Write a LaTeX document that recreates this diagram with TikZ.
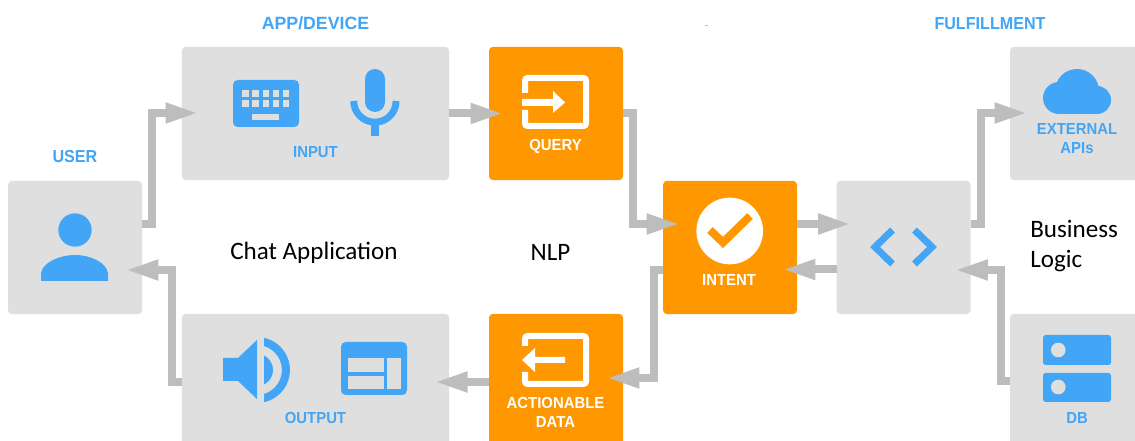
\documentclass[tikz,border=0pt]{standalone}
\usepackage{fontspec}
\usetikzlibrary{arrows.meta}
\setmainfont{Liberation Sans}
\newfontfamily\biglblfont{Liberation Sans Bold}
\newfontfamily\lblfont[FakeStretch=0.93]{Liberation Sans Bold}
\newfontfamily\notefont{Carlito}
\definecolor{boxgray}{HTML}{DFDFDF}
\definecolor{iconblue}{HTML}{42A5F5}
\definecolor{boxorange}{HTML}{FF9800}
\definecolor{linkgray}{HTML}{BDBDBD}
\tikzset{
  x=.75pt,y=-.75pt,
  graybox/.style={fill=boxgray,rounded corners=3pt,minimum width=100.5pt,minimum height=100pt,inner sep=0pt,outer sep=0pt},
  widebox/.style={graybox,minimum width=200.5pt},
  orangebox/.style={graybox,fill=boxorange},
  link/.style={draw=linkgray,line width=6pt,line join=miter,-{Triangle[length=25pt,width=14pt]}},
  bluelbl/.style={text=iconblue,font=\biglblfont\fontsize{13.3}{14}\selectfont,inner sep=0pt,text height=9.5pt,text depth=0pt},
  tightlbl/.style={text=iconblue,font=\lblfont\fontsize{13}{14}\selectfont,inner sep=0pt,text height=9.5pt,text depth=0pt},
  smalllbl/.style={text=iconblue,font=\lblfont\fontsize{12}{14}\selectfont,inner sep=0pt,text height=8.6pt,text depth=0pt},
  whitelbl/.style={smalllbl,text=white},
  note/.style={font=\notefont\fontsize{18.8}{19}\selectfont,text=black,inner sep=0pt},
  outline/.style={draw=white,line width=4.5pt,rounded corners=2pt,line cap=butt},
}
\begin{document}
\begin{tikzpicture}
\clip (0,0) rectangle (1135,441);
\fill[white] (0,0) rectangle (1135,441);
\fill[boxorange!70] (704.5,25) rectangle (708,26.5);
% boxes
\node[graybox] (user) at (75,247.5) {};
\node[widebox] (input) at (315.5,113.5) {};
\node[widebox] (output) at (315.5,380.5) {};
\node[orangebox] (query) at (556,113.5) {};
\node[orangebox] (action) at (556,380.5) {};
\node[orangebox] (intent) at (730,247.5) {};
\node[graybox] (code) at (903.5,247.5) {};
\node[graybox] (ext) at (1077,113.5) {};
\node[graybox] (db) at (1077,380.5) {};
% connectors
\draw[link] ([shift={(0,-23.5)}]user.east) -- ++(10,0) |- ([shift={(17,-0.5)}]input.west);
\draw[link] ([shift={(0,0)}]input.east) -- ([shift={(15,0)}]query.west);
\draw[link] ([shift={(0,0)}]query.east) -- ++(10,0) |- ([shift={(17,-23.5)}]intent.west);
\draw[link] ([shift={(0,22.5)}]intent.west) -- ++(-9,0) |- ([shift={(-17,-2.5)}]action.east);
\draw[link] ([shift={(0,1.5)}]action.west) -- ([shift={(-15,1.5)}]output.east);
\draw[link] ([shift={(0,1.5)}]output.west) -- ++(-10,0) |- ([shift={(-17,22.5)}]user.east);
\draw[link] ([shift={(0,-23.5)}]intent.east) -- ([shift={(15,-23.5)}]code.west);
\draw[link] ([shift={(0,22)}]code.west) -- ([shift={(-15,22)}]intent.east);
\draw[link] ([shift={(0,-23.5)}]code.east) -- ++(10,0) |- ([shift={(18,-0.5)}]ext.west);
\draw[link] ([shift={(0,0.5)}]db.west) -- ++(-9,0) |- ([shift={(-16,22.5)}]code.east);
% keyboard
\fill[iconblue,rounded corners=3.5pt] (233,80) rectangle (299,127);
\foreach \kx in {242.3,252.3,262.7,272.7,282.7}\foreach \ky in {90,100}
  \fill[boxgray] (\kx,\ky) rectangle ++(6.6,6.6);
\fill[boxgray] (252.3,114) rectangle (279,120);
% mic
\fill[iconblue,rounded corners=7.5pt] (365,69) rectangle (385,112);
\draw[iconblue,line width=5.2pt] (353.7,101) arc[start angle=180,end angle=360,radius=15.9pt];
\fill[iconblue] (371.2,124) rectangle (378.5,136);
% person
\fill[iconblue] (75,230) circle[radius=12.5pt];
\fill[iconblue] (41,281) -- (41,273) .. controls (43,262) and (60,255) .. (75,255) .. controls (90,255) and (106,262) .. (108,273) -- (108,281) -- cycle;
% speaker
\fill[iconblue] (223,358) -- (238,358) -- (257,340) -- (257,399) -- (238,381) -- (223,381) -- cycle;
\begin{scope}
\clip (264,330) rectangle (295,410);
\fill[iconblue] (257,370) circle[radius=12pt];
\fill[iconblue,even odd rule] (257,370) circle[radius=24.7pt] circle[radius=18.7pt];
\end{scope}
% table
\fill[iconblue,rounded corners=3.5pt] (341,342) rectangle (407,395);
\fill[boxgray] (348,358) rectangle (384,372);
\fill[boxgray] (348,376) rectangle (384,389);
\fill[boxgray] (387,358) rectangle (401,389);
% query icon
\draw[outline] (525,93) |- (586,78) |- (525,126) -- (525,110);
\fill[white] (522,99) -- (553,99) -- (553,91) -- (565,102.5) -- (553,113) -- (553,106) -- (522,106) -- cycle;
% action icon
\draw[outline] (525,346) |- (586,336) |- (525,384) -- (525,372);
\fill[white] (565,357) -- (535,357) -- (535,348) -- (522,360) -- (535,372) -- (535,363) -- (565,363) -- cycle;
% intent icon
\fill[white] (729.7,231) circle[radius=25pt];
\draw[boxorange,line width=6pt,miter limit=10] (710,230) -- (723,242.5) -- (750,216);
% code icon
\draw[iconblue,line width=5.2pt,miter limit=10] (892.5,230) -- (875,247) -- (892.5,264);
\draw[iconblue,line width=5.2pt,miter limit=10] (914.5,230) -- (932,247) -- (914.5,264);
% cloud
\fill[iconblue] (1077,91) circle[radius=16.5pt];
\fill[iconblue] (1059,98) circle[radius=12pt];
\fill[iconblue] (1097,100) circle[radius=10.5pt];
\fill[iconblue] (1059,92) rectangle (1097,114);
% db
\fill[iconblue,rounded corners=2pt] (1043,335) rectangle (1111,365);
\fill[iconblue,rounded corners=2pt] (1043,373) rectangle (1111,402);
\fill[boxgray] (1058.3,350) circle[radius=5.5pt];
\fill[boxgray] (1058.3,387) circle[radius=5.5pt];
% labels
\node[bluelbl] (lapp) at (315.5,23) {APP/DEVICE};
\node[tightlbl] (luser) at (75,156) {USER};
\node[tightlbl] (lful) at (990,23) {FULFILLMENT};
\node[smalllbl] (linput) at (315.5,152) {INPUT};
\node[smalllbl] (loutput) at (315.5,418) {OUTPUT};
\node[whitelbl] (lquery) at (555.5,145) {QUERY};
\node[whitelbl] (lact) at (555.5,403) {ACTIONABLE};
\node[whitelbl] (ldata) at (555.5,422) {DATA};
\node[whitelbl] (lintent) at (729,280) {INTENT};
\node[smalllbl] (lext) at (1077,129) {EXTERNAL};
\node[smalllbl] (lapi) at (1077,148) {APIs};
\node[smalllbl] (ldb) at (1077,418) {DB};
\node[note] (chat) at (314,253) {Chat Application};
\node[note] (nlp) at (550.5,252) {NLP};
\node[note,anchor=west] (biz) at (1030,229) {Business};
\node[note,anchor=west] (logic) at (1030,261.5) {Logic};
\end{tikzpicture}
\end{document}
